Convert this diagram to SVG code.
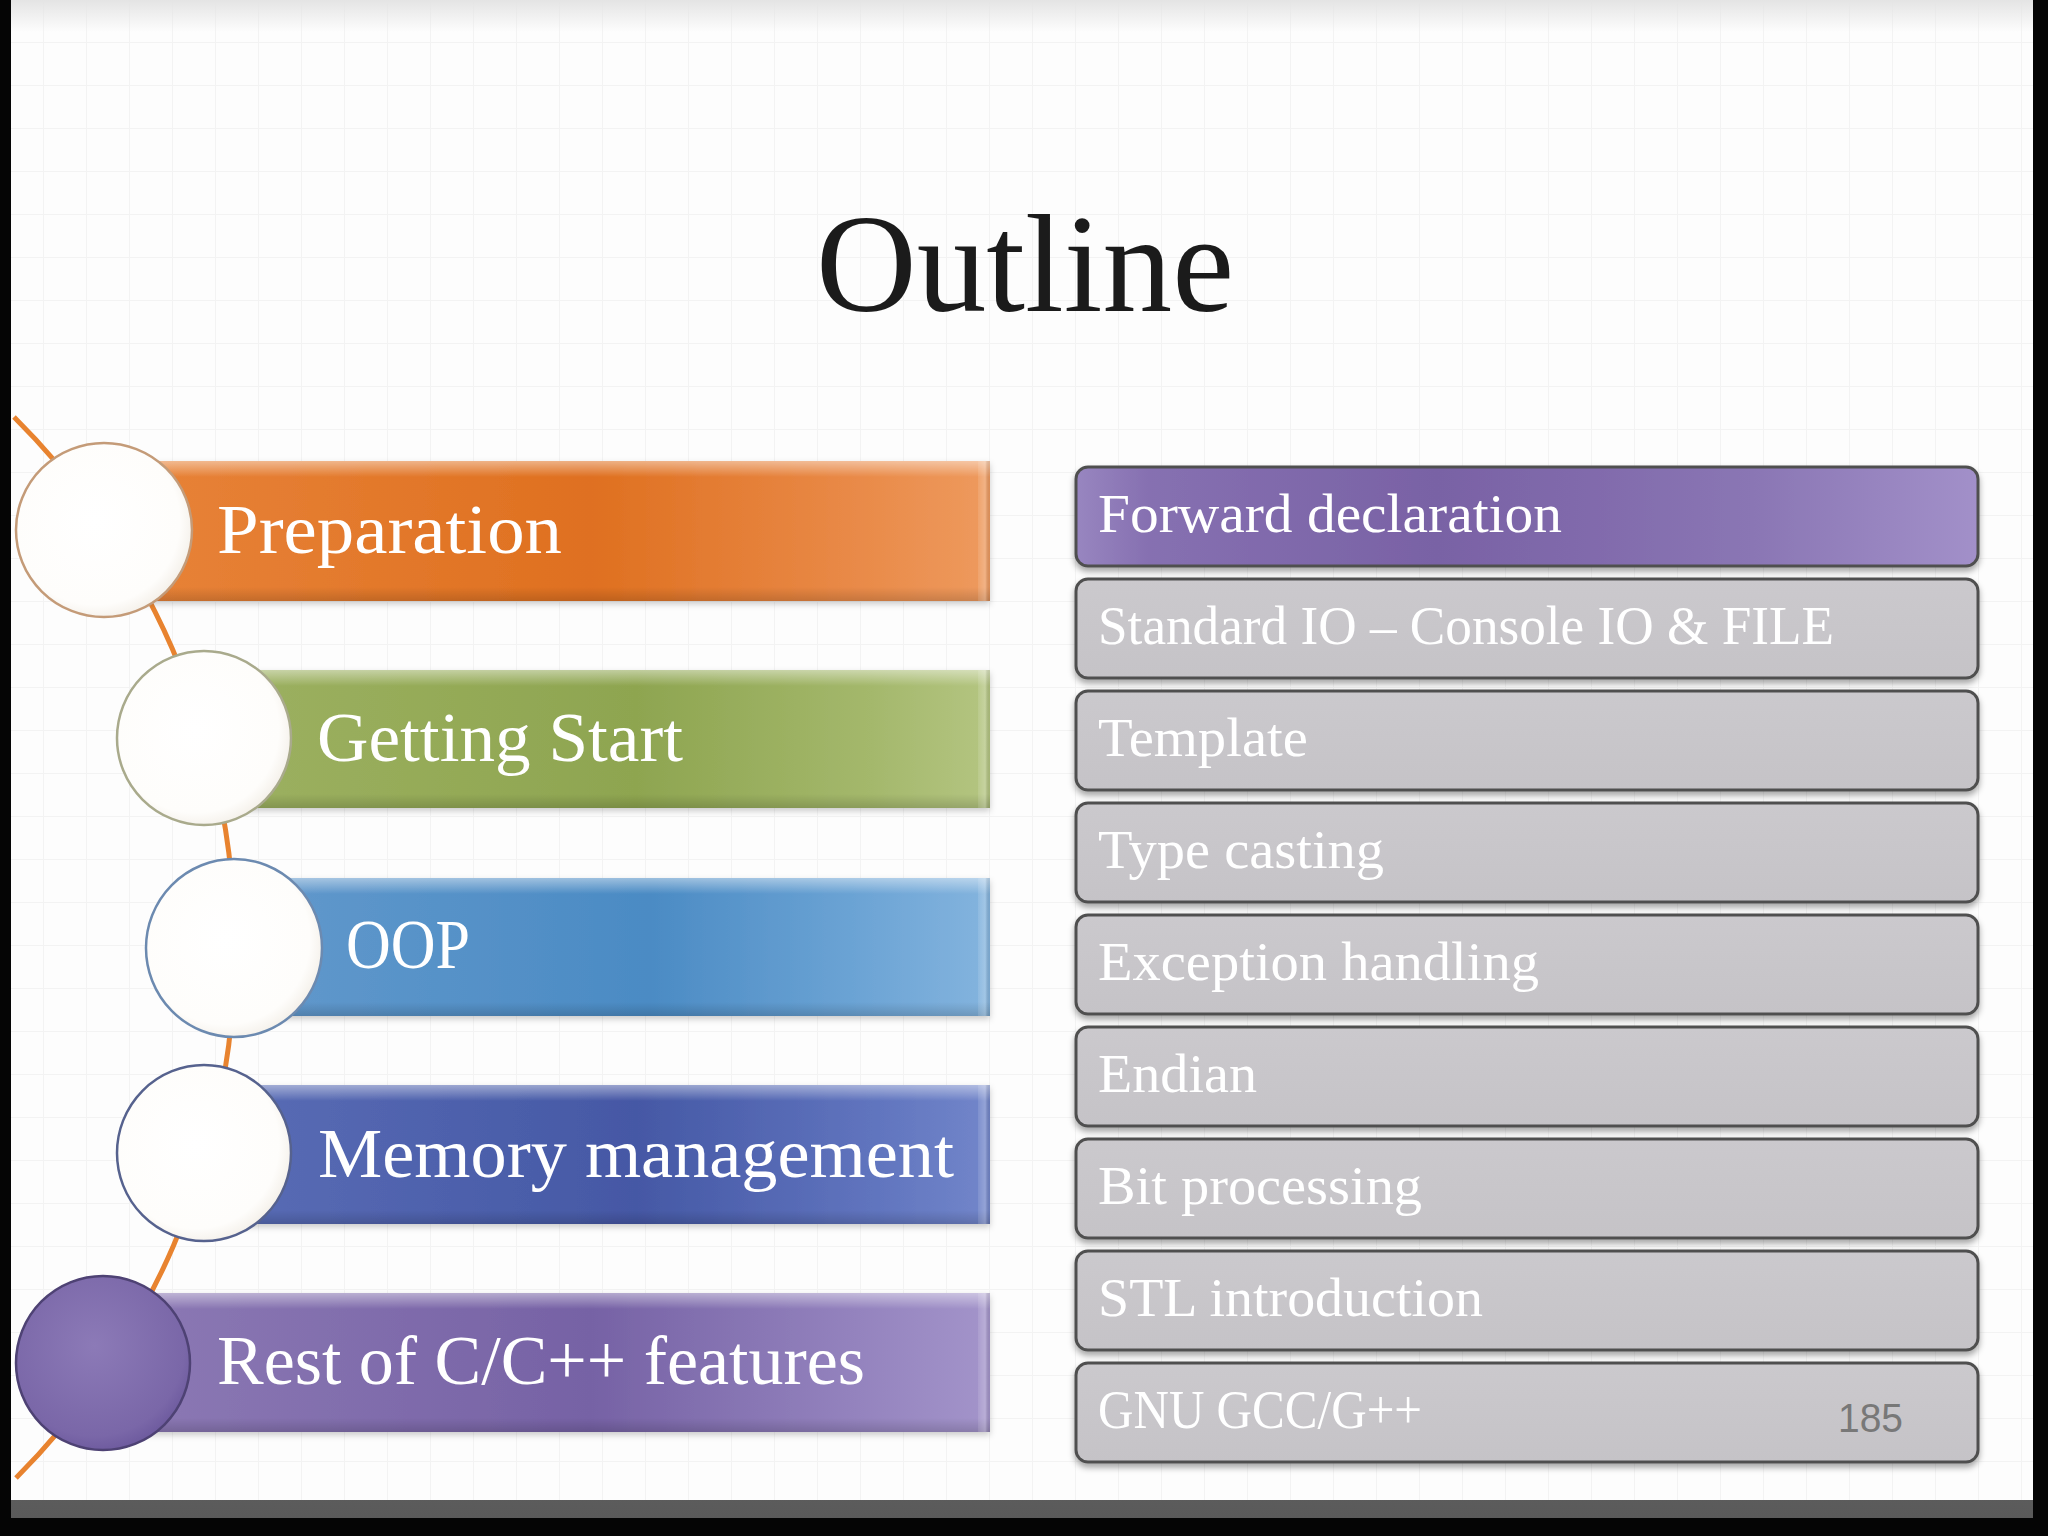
<svg xmlns="http://www.w3.org/2000/svg" width="2048" height="1536" viewBox="0 0 2048 1536">
<style>
.lbl{font-family:"Liberation Serif","DejaVu Serif",serif;font-size:70px;fill:#ffffff}
.item{font-family:"Liberation Serif","DejaVu Serif",serif;font-size:54px;fill:#ffffff}
.box{stroke:#505050;stroke-width:3;filter:url(#sh)}
.ring{stroke-width:2.5}
</style>
<defs>
<pattern id="grid" x="0" y="-1" width="43" height="43" patternUnits="userSpaceOnUse">
<path d="M0 0.5H43M0.5 0V43" stroke="#f3f3f3" stroke-width="1" fill="none"/>
</pattern>
<linearGradient id="topfade" x1="0" y1="0" x2="0" y2="1">
<stop offset="0" stop-color="#e4e4e4"/><stop offset="1" stop-color="#e4e4e4" stop-opacity="0"/>
</linearGradient>
<linearGradient id="botstrip" x1="0" y1="0" x2="0" y2="1">
<stop offset="0" stop-color="#c4c4c4"/><stop offset="0.5" stop-color="#9a9a9a"/><stop offset="1" stop-color="#5a5a5a"/>
</linearGradient>
<linearGradient id="gOr" x1="0" y1="0" x2="1" y2="0">
<stop offset="0" stop-color="#E8843A"/><stop offset="0.55" stop-color="#DF7020"/><stop offset="0.85" stop-color="#E98A48"/><stop offset="1" stop-color="#EE9A5E"/>
</linearGradient>
<linearGradient id="gGr" x1="0" y1="0" x2="1" y2="0">
<stop offset="0" stop-color="#9DB161"/><stop offset="0.55" stop-color="#8EA550"/><stop offset="0.85" stop-color="#A4B86C"/><stop offset="1" stop-color="#B4C581"/>
</linearGradient>
<linearGradient id="gBl" x1="0" y1="0" x2="1" y2="0">
<stop offset="0" stop-color="#6299CC"/><stop offset="0.55" stop-color="#4B8BC4"/><stop offset="0.85" stop-color="#6FA6D6"/><stop offset="1" stop-color="#84B4DE"/>
</linearGradient>
<linearGradient id="gNv" x1="0" y1="0" x2="1" y2="0">
<stop offset="0" stop-color="#5A6DB6"/><stop offset="0.55" stop-color="#4558A5"/><stop offset="0.85" stop-color="#6074BE"/><stop offset="1" stop-color="#7286CA"/>
</linearGradient>
<linearGradient id="gPu" x1="0" y1="0" x2="1" y2="0">
<stop offset="0" stop-color="#8D7AB5"/><stop offset="0.55" stop-color="#7662A5"/><stop offset="0.85" stop-color="#9483BE"/><stop offset="1" stop-color="#A394CA"/>
</linearGradient>
<linearGradient id="hi" x1="0" y1="0" x2="0" y2="1">
<stop offset="0" stop-color="#ffffff" stop-opacity="0.45"/><stop offset="1" stop-color="#ffffff" stop-opacity="0"/>
</linearGradient>
<linearGradient id="lo" x1="0" y1="0" x2="0" y2="1">
<stop offset="0" stop-color="#000000" stop-opacity="0"/><stop offset="1" stop-color="#000000" stop-opacity="0.15"/>
</linearGradient>
<linearGradient id="bev" x1="0" y1="0" x2="1" y2="0">
<stop offset="0" stop-color="#ffffff" stop-opacity="0.1"/><stop offset="0.6" stop-color="#ffffff" stop-opacity="0.25"/><stop offset="1" stop-color="#000000" stop-opacity="0.08"/>
</linearGradient>
<radialGradient id="wc" cx="0.45" cy="0.45" r="0.6">
<stop offset="0" stop-color="#ffffff"/><stop offset="0.8" stop-color="#fefdfb"/><stop offset="1" stop-color="#f1ece4"/>
</radialGradient>
<radialGradient id="pc" cx="0.45" cy="0.4" r="0.65">
<stop offset="0" stop-color="#8C7AB7"/><stop offset="0.8" stop-color="#7A67A8"/><stop offset="1" stop-color="#68559A"/>
</radialGradient>
<linearGradient id="grayBox" x1="0" y1="0" x2="0" y2="1">
<stop offset="0" stop-color="#cbc9cd"/><stop offset="1" stop-color="#c5c3c7"/>
</linearGradient>
<linearGradient id="purBox" x1="0" y1="0" x2="1" y2="0">
<stop offset="0" stop-color="#9886C0"/><stop offset="0.08" stop-color="#8670B1"/><stop offset="0.4" stop-color="#7962A5"/><stop offset="0.55" stop-color="#8069AB"/><stop offset="0.75" stop-color="#8a76b4"/><stop offset="1" stop-color="#A290C9"/>
</linearGradient>
<filter id="sh" x="-5%" y="-20%" width="110%" height="150%">
<feDropShadow dx="0" dy="4" stdDeviation="3" flood-color="#000000" flood-opacity="0.35"/>
</filter>
<filter id="bsh" x="-5%" y="-10%" width="110%" height="130%">
<feDropShadow dx="0" dy="3" stdDeviation="3" flood-color="#000000" flood-opacity="0.2"/>
</filter>
</defs>

<!-- frame / page -->
<rect x="0" y="0" width="2048" height="1536" fill="#050505"/>
<rect x="11" y="0" width="2022" height="1518" fill="url(#botstrip)"/>
<rect x="11" y="0" width="2022" height="1500" fill="#fdfdfd"/>
<rect x="11" y="0" width="2022" height="1500" fill="url(#grid)"/>
<rect x="11" y="0" width="2022" height="32" fill="url(#topfade)"/>

<text x="1025" y="311" text-anchor="middle" font-family="'Liberation Serif','DejaVu Serif',serif" font-size="140" fill="#1b1b1b" textLength="418" lengthAdjust="spacingAndGlyphs">Outline</text>

<!-- connectors -->
<g id="connectors">
<path d="M 14 417 A 750 750 0 0 1 16 1478" fill="none" stroke="#E8832F" stroke-width="5"/>
</g>

<!-- left nodes -->
<g id="node-preparation">
<g filter="url(#bsh)">
<rect x="104" y="461" width="886" height="140" fill="url(#gOr)"/>
</g>
<rect x="104" y="461" width="886" height="16" fill="url(#hi)"/>
<rect x="104" y="587" width="886" height="14" fill="url(#lo)"/>
<rect x="978" y="461" width="12" height="140" fill="url(#bev)"/>
<ellipse cx="104" cy="530" rx="88" ry="87" fill="url(#wc)" stroke="#C49B78" class="ring"/>
<text x="217" y="553" class="lbl" textLength="345" lengthAdjust="spacingAndGlyphs">Preparation</text>
</g>

<g id="node-getting-start">
<g filter="url(#bsh)">
<rect x="204" y="670" width="786" height="138" fill="url(#gGr)"/>
</g>
<rect x="204" y="670" width="786" height="16" fill="url(#hi)"/>
<rect x="204" y="794" width="786" height="14" fill="url(#lo)"/>
<rect x="978" y="670" width="12" height="138" fill="url(#bev)"/>
<ellipse cx="204" cy="738" rx="87" ry="87" fill="url(#wc)" stroke="#A9AA8C" class="ring"/>
<text x="317" y="761" class="lbl" textLength="366" lengthAdjust="spacingAndGlyphs">Getting Start</text>
</g>

<g id="node-oop">
<g filter="url(#bsh)">
<rect x="234" y="878" width="756" height="138" fill="url(#gBl)"/>
</g>
<rect x="234" y="878" width="756" height="16" fill="url(#hi)"/>
<rect x="234" y="1002" width="756" height="14" fill="url(#lo)"/>
<rect x="978" y="878" width="12" height="138" fill="url(#bev)"/>
<ellipse cx="234" cy="948" rx="88" ry="89" fill="url(#wc)" stroke="#6C8AB0" class="ring"/>
<text x="346" y="968" class="lbl" textLength="124" lengthAdjust="spacingAndGlyphs">OOP</text>
</g>

<g id="node-memory">
<g filter="url(#bsh)">
<rect x="204" y="1085" width="786" height="139" fill="url(#gNv)"/>
</g>
<rect x="204" y="1085" width="786" height="16" fill="url(#hi)"/>
<rect x="204" y="1210" width="786" height="14" fill="url(#lo)"/>
<rect x="978" y="1085" width="12" height="139" fill="url(#bev)"/>
<ellipse cx="204" cy="1153" rx="87" ry="88" fill="url(#wc)" stroke="#56628E" class="ring"/>
<text x="318" y="1177" class="lbl" textLength="636" lengthAdjust="spacingAndGlyphs">Memory management</text>
</g>

<g id="node-rest">
<g filter="url(#bsh)">
<rect x="103" y="1293" width="887" height="139" fill="url(#gPu)"/>
</g>
<rect x="103" y="1293" width="887" height="16" fill="url(#hi)"/>
<rect x="103" y="1418" width="887" height="14" fill="url(#lo)"/>
<rect x="978" y="1293" width="12" height="139" fill="url(#bev)"/>
<ellipse cx="103" cy="1363" rx="87" ry="87" fill="url(#pc)" stroke="#4E4274" class="ring"/>
<text x="217" y="1384" class="lbl" textLength="648" lengthAdjust="spacingAndGlyphs">Rest of C/C++ features</text>
</g>

<!-- right column -->
<g id="item-forward">
<rect x="1076" y="467" width="902" height="99" rx="12" fill="url(#purBox)" class="box" stroke="#3f3762"/>
<text x="1098" y="532" class="item" textLength="464" lengthAdjust="spacingAndGlyphs">Forward declaration</text>
</g>
<g id="item-stdio">
<rect x="1076" y="579" width="902" height="99" rx="12" fill="url(#grayBox)" class="box"/>
<text x="1098" y="644" class="item" textLength="736" lengthAdjust="spacingAndGlyphs">Standard IO – Console IO &amp; FILE</text>
</g>
<g id="item-template">
<rect x="1076" y="691" width="902" height="99" rx="12" fill="url(#grayBox)" class="box"/>
<text x="1098" y="756" class="item" textLength="210" lengthAdjust="spacingAndGlyphs">Template</text>
</g>
<g id="item-typecast">
<rect x="1076" y="803" width="902" height="99" rx="12" fill="url(#grayBox)" class="box"/>
<text x="1098" y="868" class="item" textLength="286" lengthAdjust="spacingAndGlyphs">Type casting</text>
</g>
<g id="item-exception">
<rect x="1076" y="915" width="902" height="99" rx="12" fill="url(#grayBox)" class="box"/>
<text x="1098" y="980" class="item" textLength="441" lengthAdjust="spacingAndGlyphs">Exception handling</text>
</g>
<g id="item-endian">
<rect x="1076" y="1027" width="902" height="99" rx="12" fill="url(#grayBox)" class="box"/>
<text x="1098" y="1092" class="item" textLength="159" lengthAdjust="spacingAndGlyphs">Endian</text>
</g>
<g id="item-bit">
<rect x="1076" y="1139" width="902" height="99" rx="12" fill="url(#grayBox)" class="box"/>
<text x="1098" y="1204" class="item" textLength="324" lengthAdjust="spacingAndGlyphs">Bit processing</text>
</g>
<g id="item-stl">
<rect x="1076" y="1251" width="902" height="99" rx="12" fill="url(#grayBox)" class="box"/>
<text x="1098" y="1316" class="item" textLength="385" lengthAdjust="spacingAndGlyphs">STL introduction</text>
</g>
<g id="item-gnu">
<rect x="1076" y="1363" width="902" height="99" rx="12" fill="url(#grayBox)" class="box"/>
<text x="1098" y="1428" class="item" textLength="324" lengthAdjust="spacingAndGlyphs">GNU GCC/G++</text>
</g>

<text x="1838" y="1432" font-family="'Liberation Sans','DejaVu Sans',sans-serif" font-size="40" fill="#787878" textLength="65" lengthAdjust="spacingAndGlyphs">185</text>
</svg>
